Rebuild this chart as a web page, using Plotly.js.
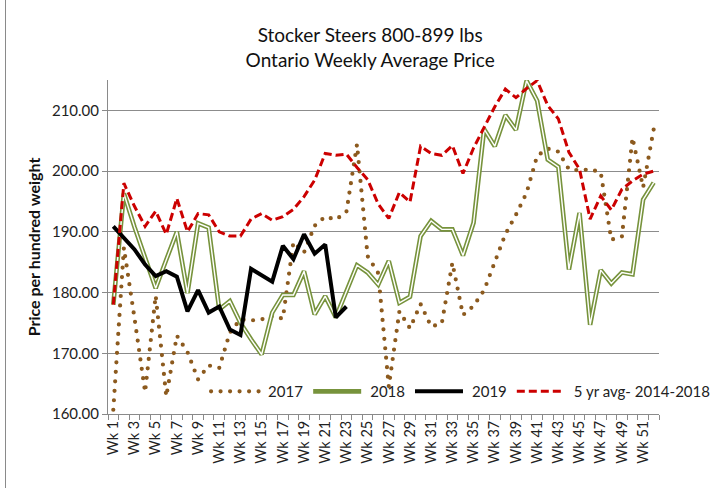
<!DOCTYPE html>
<html>
<head>
<meta charset="utf-8">
<script src="https://cdn.plot.ly/plotly-3.0.1.min.js"></script>
<style>
  html, body { margin: 0; padding: 0; background: #fff; }
  #wrap { position: relative; width: 723px; height: 488px; }
  #chart { width: 723px; height: 488px; }
  #edge { position: absolute; left: 5px; top: 0; width: 1px; height: 488px; background: #8a8a8a; }
</style>
</head>
<body>
<div id="wrap"><div id="chart"></div><div id="edge"></div></div>
<script>
// ---- data ----
const weeks = [1,2,3,4,5,6,7,8,9,10,11,12,13,14,15,16,17,18,19,20,21,22,23,24,25,26,
               27,28,29,30,31,32,33,34,35,36,37,38,39,40,41,42,43,44,45,46,47,48,49,50,51,52];
const tickWeeks = [1,3,5,7,9,11,13,15,17,19,21,23,25,27,29,31,33,35,37,39,41,43,45,47,49,51];
const tickLabels = ["Wk 1","Wk 3","Wk 5","Wk 7","Wk 9","Wk 11","Wk 13","Wk 15","Wk 17","Wk 19",
                    "Wk 21","Wk 23","Wk 25","Wk 27","Wk 29","Wk 31","Wk 33","Wk 35","Wk 37","Wk 39",
                    "Wk 41","Wk 43","Wk 45","Wk 47","Wk 49","Wk 51"];
const y2017 = [160.7,187.4,175.8,163.6,179.5,162.9,172.9,170.2,165.7,168.0,
               167.6,173.4,175.6,175.4,175.6,176.1,175.7,188.3,186.6,191.0,
               192.5,192.0,193.3,204.4,186.0,183.2,164.5,176.9,174.1,178.1,
               174.4,174.9,184.9,176.3,177.8,180.4,185.0,189.6,192.8,196.4,
               202.5,203.7,203.2,200.3,200.1,200.3,199.8,188.7,189.2,205.5,
               197.3,206.9];
const y2018 = [178.0,196.3,190.8,185.6,180.7,185.4,190.0,179.9,191.4,190.7,
               177.2,178.6,175.0,172.3,169.8,176.7,179.6,179.6,183.5,176.4,
               179.4,175.9,180.1,184.5,183.3,181.3,185.2,178.3,179.3,189.3,
               191.8,190.4,190.4,186.1,191.5,206.9,204.1,209.2,206.8,214.9,
               211.6,201.9,200.7,183.8,193.1,174.7,183.7,181.5,183.3,183.0,
               195.3,198.1];
const y2019 = [190.9,189.0,187.1,184.6,182.7,183.5,182.6,176.9,180.4,176.7,
               177.7,173.9,173.0,183.9,182.9,181.8,187.7,185.5,189.6,186.4,
               187.9,175.9,177.7];
const y5yr  = [178.0,198.0,194.2,190.9,193.4,189.6,195.5,190.0,193.0,192.8,
               190.0,189.3,189.3,192.1,193.0,191.9,192.5,193.7,195.8,198.5,
               202.9,202.6,202.8,200.6,198.6,194.6,192.2,196.5,194.9,204.1,
               202.9,202.6,204.2,199.6,203.8,207.3,210.6,213.5,212.1,213.6,
               214.9,210.8,208.6,203.1,200.3,192.1,195.9,193.6,197.0,198.4,
               199.5,200.0];
const seriesNames = ["2017","2018","2019","5 yr avg- 2014-2018"];

// ---- styles ----
const BROWN = "rgb(140, 90, 30)";
const GREEN = "#77933C";
const RED = "#CC0000";
const FONT = "Lato, 'Open Sans', sans-serif";

const traces = [
  { x: weeks, y: y2017, name: seriesNames[0], mode: "lines",
    line: { color: BROWN, width: 4.2, dash: "0px,9.5px" } },
  { x: weeks, y: y2018, name: seriesNames[1], mode: "lines",
    line: { color: GREEN, width: 4.6 } },
  { x: weeks, y: y2018, name: seriesNames[1] + " inner", mode: "lines", showlegend: false,
    hoverinfo: "skip", line: { color: "#ffffff", width: 1.4 } },
  { x: weeks.slice(0, y2019.length), y: y2019, name: seriesNames[2], mode: "lines",
    line: { color: "#000000", width: 4 } },
  { x: weeks, y: y5yr, name: seriesNames[3], mode: "lines",
    line: { color: RED, width: 3, dash: "8px,4px" } }
];

const layout = {
  width: 723, height: 488,
  margin: { l: 108, r: 8, t: 80, b: 74 },
  paper_bgcolor: "#ffffff", plot_bgcolor: "#ffffff",
  font: { family: FONT, color: "#222", size: 15 },
  title: {
    text: "Stocker Steers 800-899 lbs<br>Ontario Weekly Average Price",
    font: { family: FONT, size: 19, color: "#111" },
    x: 0.512, xanchor: "center", y: 0.914, yanchor: "top"
  },
  showlegend: true,
  legend: {
    orientation: "h", x: 0.178, xanchor: "left", y: 0.067, yanchor: "middle",
    bgcolor: "rgba(0,0,0,0)", font: { family: FONT, size: 15, color: "#222" },
    itemwidth: 52, traceorder: "normal"
  },
  xaxis: {
    range: [0.5, 52.5], showgrid: false, zeroline: false,
    showline: true, linecolor: "#8a8a8a", linewidth: 1,
    tickmode: "array", tickvals: tickWeeks, ticktext: tickLabels,
    tickangle: -90, ticks: "", tickfont: { family: FONT, size: 14.5, color: "#222" },
    minor: { tick0: 0.5, dtick: 1, ticks: "outside", ticklen: 5, tickcolor: "#8a8a8a", tickwidth: 1, showgrid: false }
  },
  yaxis: {
    range: [160, 215], tickvals: [160,170,180,190,200,210], tickformat: ".2f",
    showgrid: true, gridcolor: "#8c8c8c", gridwidth: 1, zeroline: false,
    showline: true, linecolor: "#8a8a8a", linewidth: 1,
    ticks: "outside", ticklen: 5, tickcolor: "#8a8a8a",
    tickfont: { family: FONT, size: 15, color: "#222" },
    title: { text: "<b>Price per hundred weight</b>", font: { family: FONT, size: 16, color: "#111" }, standoff: 7 }
  }
};

Plotly.newPlot("chart", traces, layout, { displayModeBar: false, staticPlot: true }).then(function () {
  // longer legend samples, as in the reference
  document.querySelectorAll(".legend .traces path.js-line").forEach(function (p) {
    p.setAttribute("d", "M5,0h48");
  });
  document.querySelectorAll("path.js-line").forEach(function (p) {
    if (p.style.stroke === BROWN) p.style.strokeLinecap = "round";
  });
});
</script>
</body>
</html>
